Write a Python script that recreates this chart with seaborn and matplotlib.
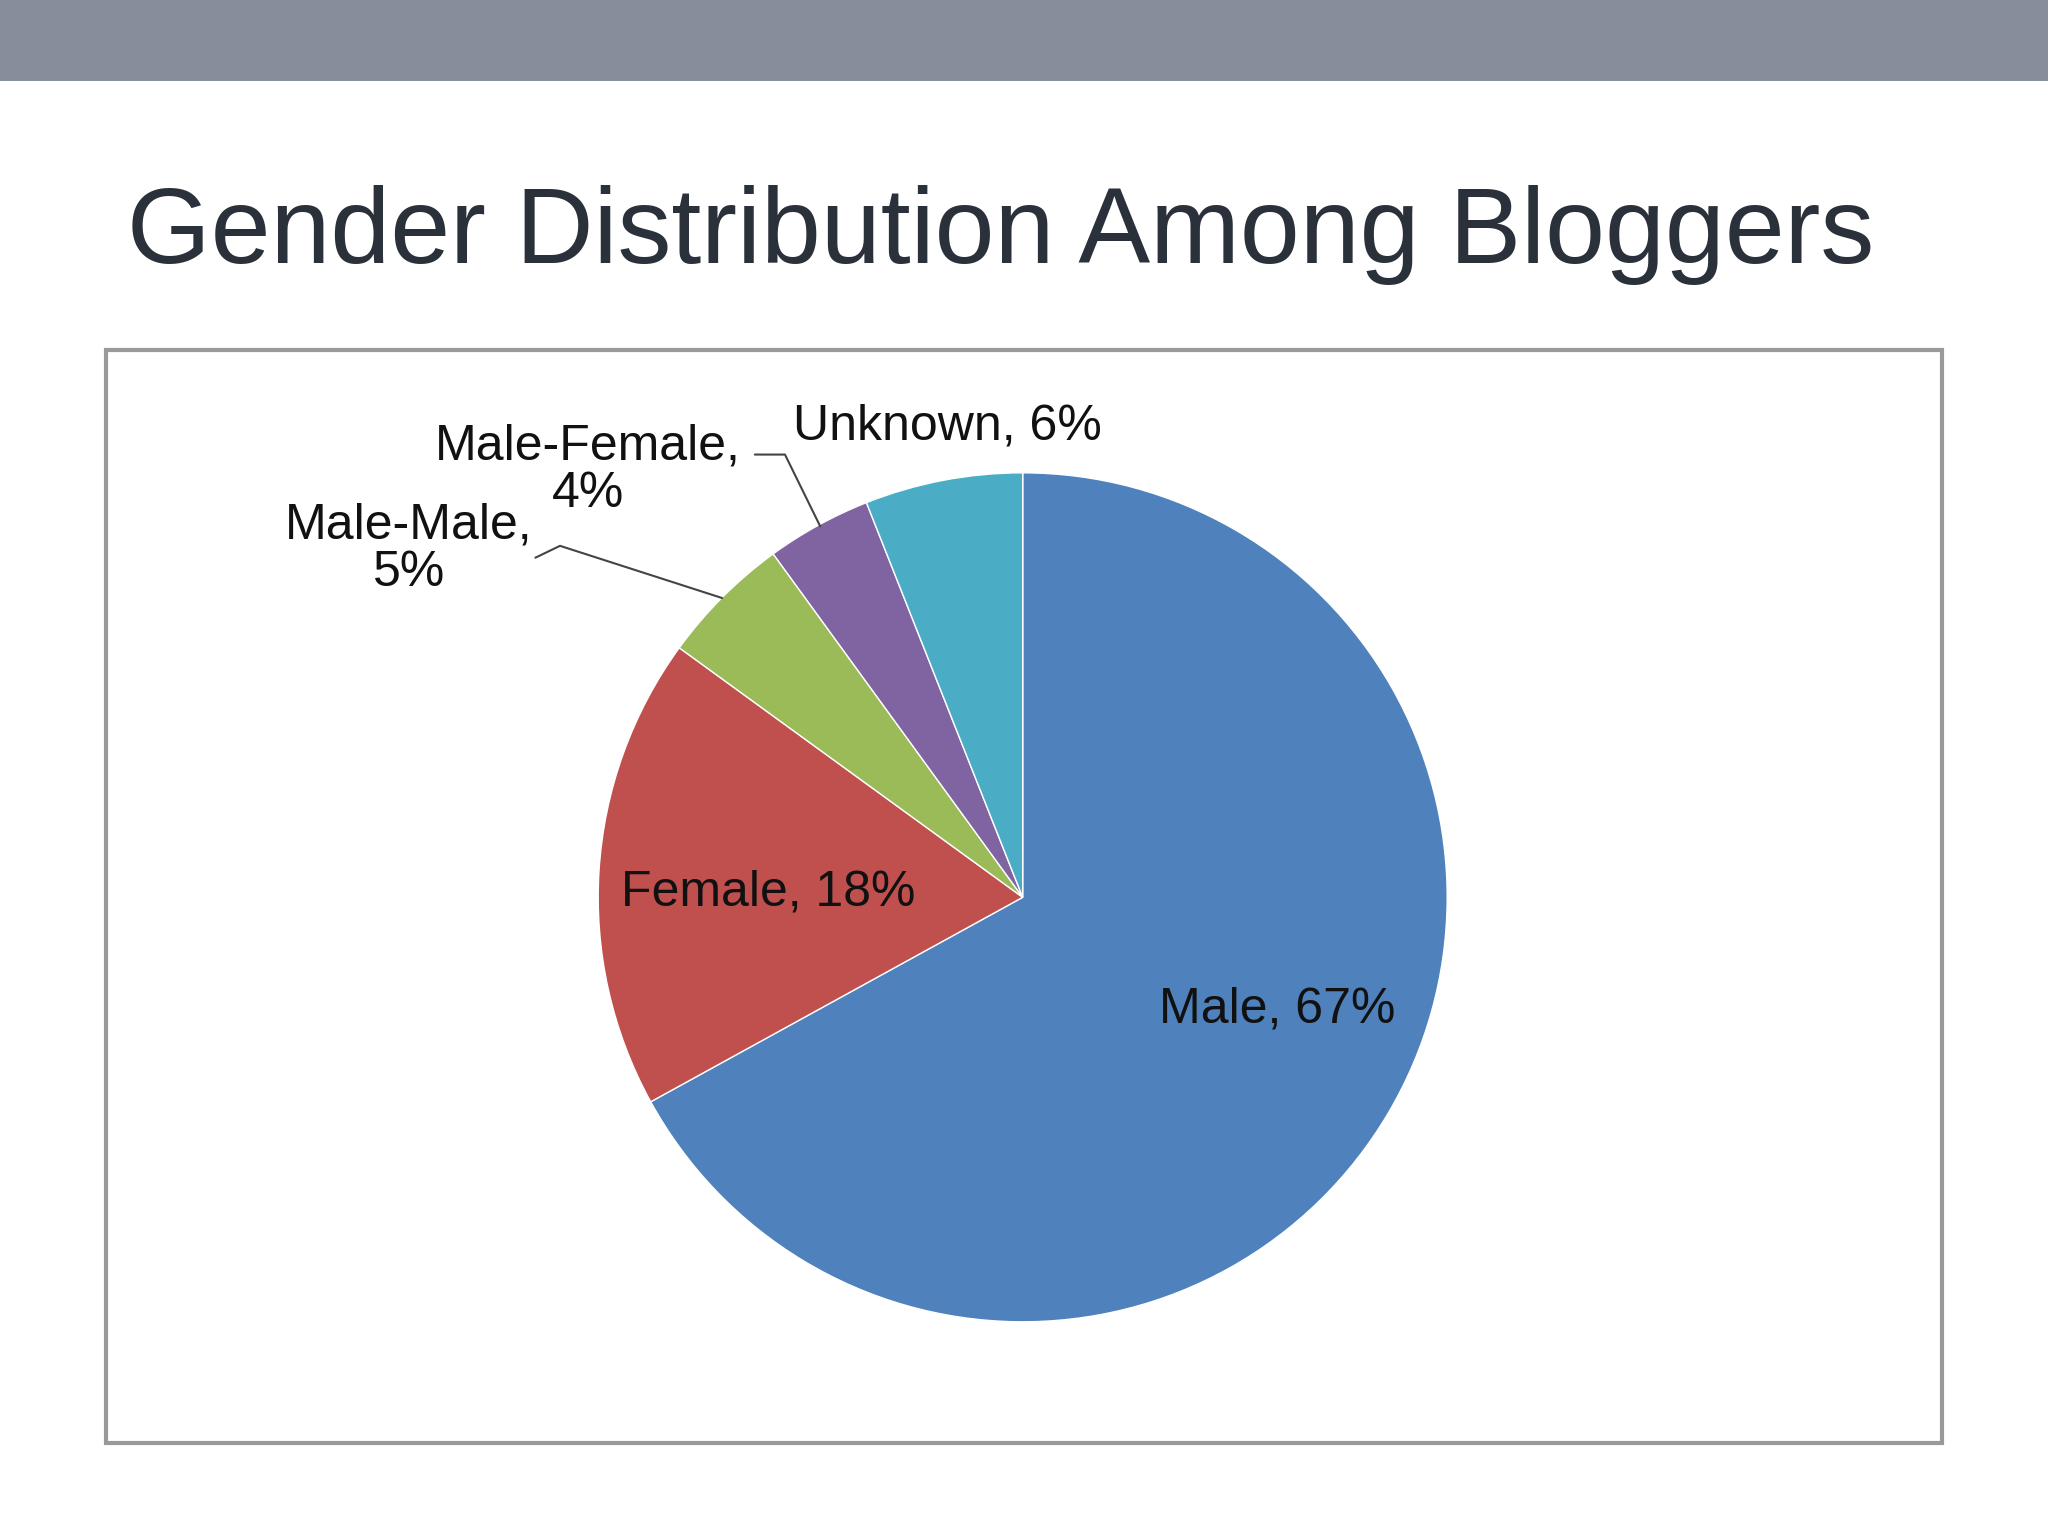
import matplotlib
matplotlib.use("Agg")
import matplotlib.pyplot as plt
import seaborn as sns
from matplotlib.patches import Rectangle

sns.set_theme(style="white")
plt.rcParams['font.family'] = ['Liberation Sans', 'DejaVu Sans']

categories = ["Male", "Female", "Male-Male", "Male-Female", "Unknown"]
values = [67, 18, 5, 4, 6]
colors = ["#4f81bd", "#c0504d", "#9bbb59", "#8064a2", "#4bacc6"]
title = "Gender Distribution Among Bloggers"

W, H = 1568, 1176
fig = plt.figure(figsize=(20.48, 15.36), dpi=100)
fig.patch.set_facecolor("white")

fig.add_artist(Rectangle((0, 1 - 62 / H), 1, 62 / H, transform=fig.transFigure,
                         facecolor="#868e9c", edgecolor="none"))
fig.add_artist(Rectangle((81 / W, 1 - 1105 / H), (1487 - 81) / W, (1105 - 268) / H,
                         transform=fig.transFigure, facecolor="none",
                         edgecolor="#9a9a9a", linewidth=3))
fig.text(97 / W, 1 - 180 / H, title, fontsize=77.5, color="#2b313a", va="center", ha="left")

cx, cy, r = 783, 687, 325
ax = fig.add_axes([(cx - r) / W, 1 - (cy + r) / H, 2 * r / W, 2 * r / H])
ax.pie(values, colors=colors, startangle=90, counterclock=False,
       wedgeprops=dict(edgecolor="white", linewidth=1))
ax.set_xlim(-1, 1)
ax.set_ylim(-1, 1)
ax.set_aspect("auto")
ax.axis("off")

fs = 36
lab = [f"{c}, {v}%" for c, v in zip(categories, values)]
ax.text(0.60, -0.265, lab[0], fontsize=fs, ha="center", va="center", color="#111111")
ax.text(-0.60, 0.012, lab[1], fontsize=fs, ha="center", va="center", color="#111111")
ax.text(-1.446, 0.82, "Male-Male,\n5%", fontsize=fs, ha="center", va="center",
        color="#111111", linespacing=1.05, clip_on=False)
ax.text(-1.025, 1.006, "Male-Female,\n4%", fontsize=fs, ha="center", va="center",
        color="#111111", linespacing=1.05, clip_on=False)
ax.text(-0.54, 1.11, lab[4], fontsize=fs, ha="left", va="center", color="#111111",
        clip_on=False)
ax.plot([-1.148, -1.09, -0.708], [0.80, 0.828, 0.705], color="#444444", lw=1.5, clip_on=False)
ax.plot([-0.631, -0.56, -0.477], [1.043, 1.043, 0.874], color="#444444", lw=1.5, clip_on=False)

fig.savefig("out.png", dpi=100)
